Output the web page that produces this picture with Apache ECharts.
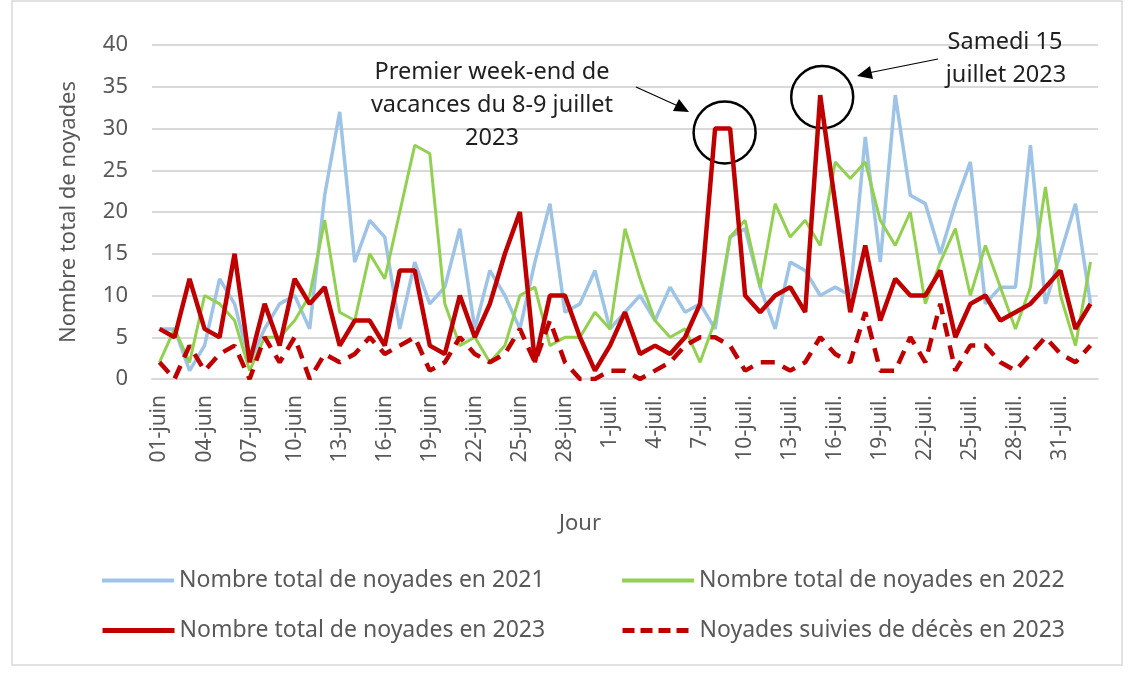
<!DOCTYPE html>
<html>
<head>
<meta charset="utf-8">
<script src="https://cdn.jsdelivr.net/npm/echarts@6/dist/echarts.min.js"></script>
<style>
html, body { margin: 0; padding: 0; background: #fff; }
#main { width: 1136px; height: 675px; }
</style>
</head>
<body>
<div id="main"></div>
<script>
// jours du 1er juin au 2 août
var jours = ['01-juin', '02-juin', '03-juin', '04-juin', '05-juin', '06-juin', '07-juin', '08-juin', '09-juin', '10-juin',
	'11-juin', '12-juin', '13-juin', '14-juin', '15-juin', '16-juin', '17-juin', '18-juin', '19-juin', '20-juin',
	'21-juin', '22-juin', '23-juin', '24-juin', '25-juin', '26-juin', '27-juin', '28-juin', '29-juin', '30-juin',
	'1-juil.', '2-juil.', '3-juil.', '4-juil.', '5-juil.', '6-juil.', '7-juil.', '8-juil.', '9-juil.', '10-juil.',
	'11-juil.', '12-juil.', '13-juil.', '14-juil.', '15-juil.', '16-juil.', '17-juil.', '18-juil.', '19-juil.', '20-juil.',
	'21-juil.', '22-juil.', '23-juil.', '24-juil.', '25-juil.', '26-juil.', '27-juil.', '28-juil.', '29-juil.', '30-juil.',
	'31-juil.', '1-août', '2-août'];

var noyades2021 = [6, 6, 1, 4, 12, 9, 2, 6, 9, 10, 6, 22, 32, 14, 19, 17, 6, 14, 9, 11,
	18, 6, 13, 10, 6, 14, 21, 8, 9, 13, 6, 8, 10, 7, 11, 8, 9, 6, 17, 18,
	11, 6, 14, 13, 10, 11, 10, 29, 14, 34, 22, 21, 15, 21, 26, 9, 11, 11, 28, 9,
	15, 21, 9];
var noyades2022 = [2, 6, 2, 10, 9, 7, 1, 5, 5, 7, 10, 19, 8, 7, 15, 12, 20, 28, 27, 9,
	4, 5, 2, 4, 10, 11, 4, 5, 5, 8, 6, 18, 12, 7, 5, 6, 2, 7, 17, 19,
	11, 21, 17, 19, 16, 26, 24, 26, 19, 16, 20, 9, 14, 18, 10, 16, 11, 6, 11, 23,
	10, 4, 14];
var noyades2023 = [6, 5, 12, 6, 5, 15, 2, 9, 4, 12, 9, 11, 4, 7, 7, 4, 13, 13, 4, 3,
	10, 5, 9, 15, 20, 2, 10, 10, 5, 1, 4, 8, 3, 4, 3, 5, 9, 30, 30, 10,
	8, 10, 11, 8, 34, 21, 8, 16, 7, 12, 10, 10, 13, 5, 9, 10, 7, 8, 9, 11,
	13, 6, 9];
var deces2023 = [2, 0, 4, 1, 3, 4, 0, 5, 2, 5, 0, 3, 2, 3, 5, 3, 4, 5, 1, 2,
	5, 3, 2, 3, 6, 2, 7, 2, 0, 0, 1, 1, 0, 1, 2, 4, 5, 5, 4, 1,
	2, 2, 1, 2, 5, 3, 2, 8, 1, 1, 5, 2, 9, 1, 4, 4, 2, 1, 3, 5,
	3, 2, 4];

var noms = ['Nombre total de noyades en 2021', 'Nombre total de noyades en 2022',
	'Nombre total de noyades en 2023', 'Noyades suivies de décès en 2023'];

var gris = '#595959';
var police = 'Noto Sans';

var chart = echarts.init(document.getElementById('main'));

function legende(nom, left, top, trait) {
	return {
		data: [nom],
		left: left,
		top: top,
		itemWidth: 72,
		itemHeight: 14,
		itemStyle: { opacity: 0 },
		lineStyle: trait,
		textStyle: { fontSize: 23, color: gris, fontFamily: police }
	};
}

var option = {
	animation: false,
	textStyle: { fontFamily: police },
	grid: { left: 152, right: 38, top: 45, bottom: 296 },
	legend: [
		legende(noms[0], 95, 564, { width: 4 }),
		legende(noms[1], 615, 564, { width: 4 }),
		legende(noms[2], 95, 614, { width: 5 }),
		legende(noms[3], 615, 614, { width: 5, type: [12, 6] })
	],
	xAxis: {
		type: 'category',
		data: jours,
		boundaryGap: true,
		axisLine: { lineStyle: { color: '#d9d9d9', width: 2 } },
		axisTick: { show: false },
		axisLabel: { interval: 2, rotate: 90, fontSize: 21, color: gris, margin: 16 },
		name: 'Jour',
		nameLocation: 'middle',
		nameGap: 134,
		nameTextStyle: { fontSize: 22, color: gris, padding: [0, 90, 0, 0] }
	},
	yAxis: {
		type: 'value',
		min: 0,
		max: 40,
		interval: 5,
		axisLine: { show: false },
		axisTick: { show: false },
		splitLine: { lineStyle: { color: '#d9d9d9', width: 2 } },
		axisLabel: { fontSize: 22, color: gris, margin: 24 },
		name: 'Nombre total de noyades',
		nameLocation: 'middle',
		nameGap: 72,
		nameTextStyle: { fontSize: 22, color: gris }
	},
	series: [
		{
			name: noms[0], type: 'line', data: noyades2021, symbol: 'none',
			lineStyle: { color: '#9dc3e6', width: 3.5 }, itemStyle: { color: '#9dc3e6' }
		},
		{
			name: noms[1], type: 'line', data: noyades2022, symbol: 'none',
			lineStyle: { color: '#92d050', width: 3 }, itemStyle: { color: '#92d050' }
		},
		{
			name: noms[2], type: 'line', data: noyades2023, symbol: 'none',
			lineStyle: { color: '#c00000', width: 4.5 }, itemStyle: { color: '#c00000' }
		},
		{
			name: noms[3], type: 'line', data: deces2023, symbol: 'none',
			lineStyle: { color: '#c00000', width: 4.5, type: [14, 9] }, itemStyle: { color: '#c00000' }
		}
	]
};
chart.setOption(option);

// annotations placées à partir des pics de 2023
var p8 = chart.convertToPixel({ gridIndex: 0 }, [37, noyades2023[37]]);
var p9 = chart.convertToPixel({ gridIndex: 0 }, [38, noyades2023[38]]);
var p15 = chart.convertToPixel({ gridIndex: 0 }, [44, noyades2023[44]]);
var c1 = [(p8[0] + p9[0]) / 2 + 2, p8[1] + 4];
var c2 = [p15[0] + 2, p15[1] + 2];

var texte = { fontSize: 23.5, fill: '#1f1f1f', fontFamily: police, textAlign: 'center', textVerticalAlign: 'middle' };

chart.setOption({
	graphic: [
		{ type: 'rect', shape: { x: 12, y: 1, width: 1110, height: 664 }, style: { fill: 'none', stroke: '#d9d9d9', lineWidth: 1.5 }, silent: true },
		{ type: 'circle', shape: { cx: c1[0], cy: c1[1], r: 31 }, style: { fill: 'none', stroke: '#000', lineWidth: 2.5 } },
		{ type: 'circle', shape: { cx: c2[0], cy: c2[1], r: 31 }, style: { fill: 'none', stroke: '#000', lineWidth: 2.5 } },
		{ type: 'text', x: 492, y: 72, style: Object.assign({ text: 'Premier week-end de' }, texte) },
		{ type: 'text', x: 492, y: 105, style: Object.assign({ text: 'vacances du 8-9 juillet' }, texte) },
		{ type: 'text', x: 492, y: 138, style: Object.assign({ text: '2023' }, texte) },
		{ type: 'text', x: 1005, y: 42, style: Object.assign({ text: 'Samedi 15' }, texte) },
		{ type: 'text', x: 1006, y: 75, style: Object.assign({ text: 'juillet 2023' }, texte) },
		// flèche 1
		{ type: 'line', shape: { x1: 636, y1: 87, x2: 678, y2: 106 }, style: { stroke: '#000', lineWidth: 1.2 } },
		{ type: 'polygon', shape: { points: [[689, 112], [673, 111], [679, 99]] }, style: { fill: '#000' } },
		// flèche 2
		{ type: 'line', shape: { x1: 938, y1: 59, x2: 868, y2: 73 }, style: { stroke: '#000', lineWidth: 1.2 } },
		{ type: 'polygon', shape: { points: [[857, 76], [870, 66], [873, 79]] }, style: { fill: '#000' } }
	]
});
</script>
</body>
</html>
